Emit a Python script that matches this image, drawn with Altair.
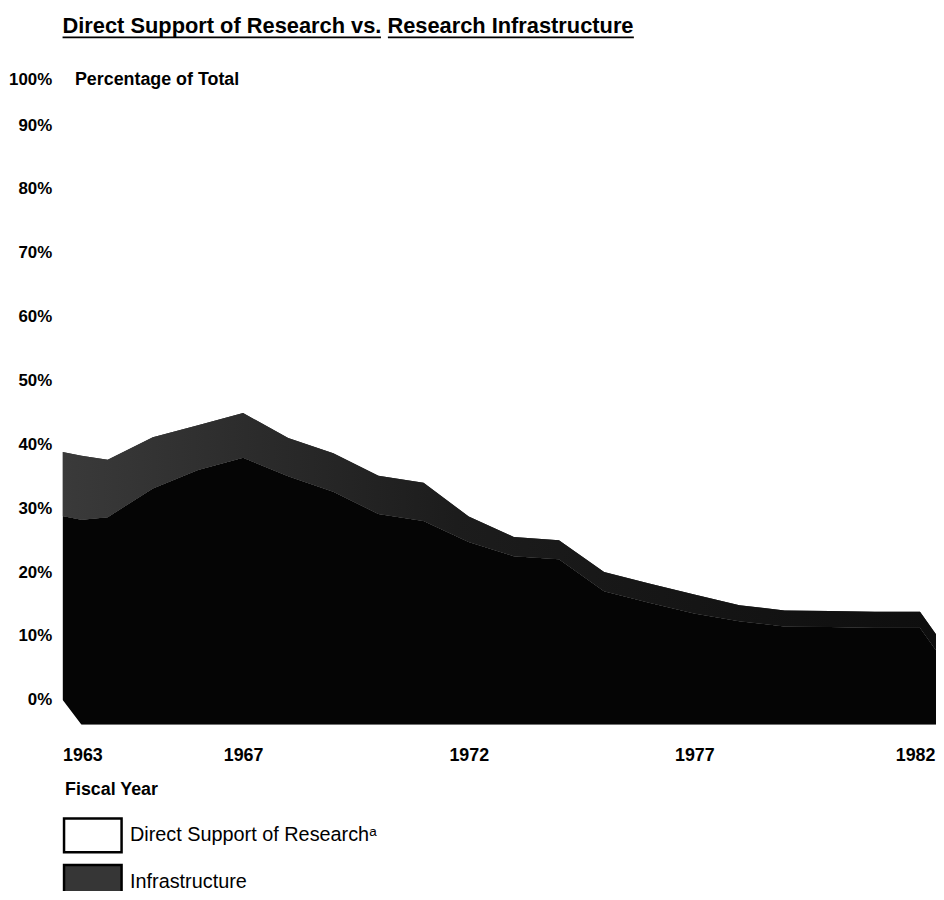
import altair as alt
import pandas as pd

# ---- data ----
years = [1963, 1963.42, 1964, 1965, 1966, 1967, 1968, 1969, 1970, 1971, 1972,
         1973, 1974, 1975, 1976, 1977, 1978, 1979, 1980, 1981, 1982, 1982.37]
total_pct = [38.8, 38.2, 37.6, 41.1, 43.0, 44.9, 41.0, 38.6, 35.1, 34.0, 28.7,
             25.5, 25.0, 20.0, 18.2, 16.5, 14.8, 14.0, 13.9, 13.8, 13.8, 10.1]
infra_pct = [10, 10, 9, 8, 7, 7, 6, 6, 6, 6, 4,
             3, 3, 3, 3, 3, 2.5, 2.5, 2.5, 2.5, 2.5, 2.5]
base_pct = [0, -3.9, -3.9, -3.9, -3.9, -3.9, -3.9, -3.9, -3.9, -3.9, -3.9,
            -3.9, -3.9, -3.9, -3.9, -3.9, -3.9, -3.9, -3.9, -3.9, -3.9, -3.9]
series_names = ["Direct Support of Research\u1d43", "Infrastructure"]
x_ticks = [1963, 1967, 1972, 1977, 1982]
y_ticks = [0, 10, 20, 30, 40, 50, 60, 70, 80, 90, 100]
title_text = "Direct Support of Research vs. Research Infrastructure"

direct_top = [t - i for t, i in zip(total_pct, infra_pct)]
wide = pd.DataFrame({"year": years, "base": base_pct, "mid": direct_top, "total": total_pct})
long = pd.concat([
    pd.DataFrame({"year": years, "lo": base_pct, "hi": direct_top, "series": series_names[0]}),
    pd.DataFrame({"year": years, "lo": direct_top, "hi": total_pct, "series": series_names[1]}),
])

FONT = "Liberation Sans"
xscale = alt.Scale(domain=[1963, 1982.354], nice=False, zero=False)
yscale = alt.Scale(domain=[-3.9, 100], nice=False, zero=False)

xaxis = alt.Axis(
    values=x_ticks, format="d", title="Fiscal Year", grid=False, ticks=False, domain=False,
    labelFont=FONT, labelFontSize=18, labelFontWeight="bold", labelColor="black",
    labelPadding=22,
    labelAlign={"condition": {"test": "datum.value == 1963", "value": "left"}, "value": "center"},
    labelOffset={"condition": {"test": "datum.value == 1982", "value": -5}, "value": 0},
    titleFont=FONT, titleFontSize=18, titleFontWeight="bold", titleColor="black",
    titleAnchor="start", titleAlign="left", titleBaseline="middle", titleX=2, titleY=65,
)
yaxis = alt.Axis(
    values=y_ticks, labelExpr="datum.value + '%'", title="Percentage of Total",
    grid=False, ticks=False, domain=False,
    labelFont=FONT, labelFontSize=17, labelFontWeight="bold", labelColor="black",
    labelPadding=11, labelAlign="right", labelBaseline="middle",
    labelOffset={"condition": {"test": "datum.value == 100", "value": 19}, "value": 0},
    titleFont=FONT, titleFontSize=18, titleFontWeight="bold", titleColor="black",
    titleAngle=0, titleAlign="left", titleBaseline="middle", titleX=12, titleY=19,
)

legend_layer = alt.Chart(long).mark_area(clip=True).encode(
    x=alt.X("year:Q", scale=xscale, axis=xaxis),
    y=alt.Y("hi:Q", scale=yscale, axis=yaxis),
    y2="lo:Q",
    color=alt.Color(
        "series:N",
        scale=alt.Scale(domain=series_names, range=["#ffffff", "#363636"]),
        legend=alt.Legend(
            title=None, orient="none", legendX=0, legendY=762, direction="vertical",
            symbolType="M-1,-1H2.412V1H-1Z", symbolSize=1156,
            symbolStrokeColor="black", symbolStrokeWidth=2.5, symbolOpacity=1,
            labelFont=FONT, labelFontSize=20, labelColor="black", labelOffset=31,
            labelLimit=500, rowPadding=2, padding=0,
        ),
    ),
)

direct_layer = alt.Chart(wide).mark_area(clip=True, fill="#050505").encode(
    x=alt.X("year:Q", scale=xscale),
    y=alt.Y("mid:Q", scale=yscale),
    y2="base:Q",
)

infra_layer = alt.Chart(wide).mark_area(
    clip=True,
    fill=alt.Gradient(
        gradient="linear",
        stops=[alt.GradientStop(color="#3a3a3a", offset=0),
               alt.GradientStop(color="#1c1c1c", offset=0.45),
               alt.GradientStop(color="#0e0e0e", offset=1)],
        x1=0, x2=1, y1=0, y2=0,
    ),
).encode(
    x=alt.X("year:Q", scale=xscale),
    y=alt.Y("total:Q", scale=yscale),
    y2="mid:Q",
)

# title text and its underline (two segments, as in the reference)
one = pd.DataFrame({"k": [0]})
title_mark = alt.Chart(one).mark_text(
    text=title_text, font=FONT, fontSize=22, fontWeight="bold", color="black",
    align="left", baseline="alphabetic",
).encode(x=alt.value(0), y=alt.value(-28))
underline1 = alt.Chart(one).mark_rule(color="black", strokeWidth=2).encode(
    x=alt.value(0), x2=alt.value(321), y=alt.value(-24)
)
underline2 = alt.Chart(one).mark_rule(color="black", strokeWidth=2).encode(
    x=alt.value(328), x2=alt.value(576), y=alt.value(-24)
)

chart = alt.layer(
    legend_layer, direct_layer, infra_layer, title_mark, underline1, underline2
).properties(
    width=880.6,
    height=669,
    padding={"left": 55, "top": 50, "right": 0, "bottom": 164},
    autosize=alt.AutoSizeParams(type="none"),
    background="white",
).configure_view(strokeWidth=0, stroke=None)

chart.save("out.html", embed_options={"renderer": "svg", "actions": False})
